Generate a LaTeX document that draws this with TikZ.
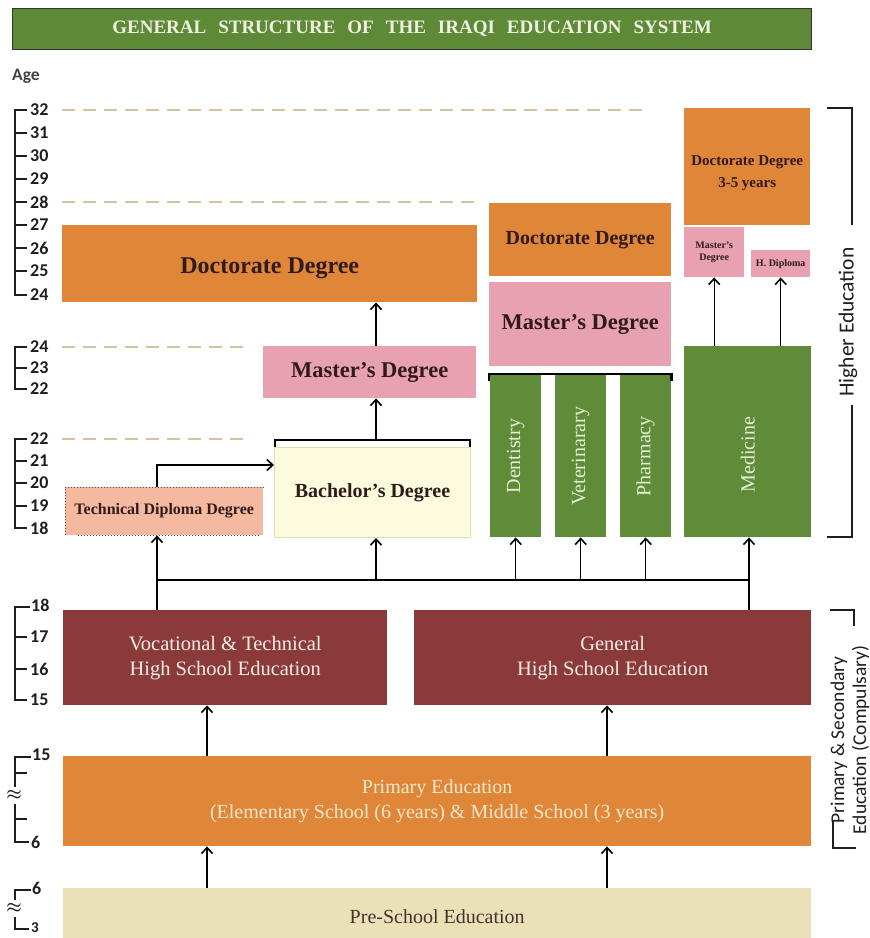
\documentclass[tikz,border=0pt]{standalone}
\usepackage{fontspec}
\setmainfont{Liberation Serif}
\newfontfamily\sidefont{Carlito}
\usetikzlibrary{arrows.meta,calc}
\newcommand\fsz[2]{\fontsize{#1}{#2}\selectfont}
\definecolor{titlegreen}{RGB}{94,138,56}
\definecolor{titletext}{RGB}{240,240,225}
\definecolor{orng}{RGB}{224,134,57}
\definecolor{pinkc}{RGB}{232,161,176}
\definecolor{grn}{RGB}{96,139,56}
\definecolor{grntext}{RGB}{228,240,214}
\definecolor{redc}{RGB}{139,58,58}
\definecolor{redtext}{RGB}{246,236,230}
\definecolor{primtext}{RGB}{250,232,205}
\definecolor{prec}{RGB}{234,226,182}
\definecolor{bachc}{RGB}{253,251,222}
\definecolor{bachb}{RGB}{226,221,172}
\definecolor{techc}{RGB}{245,185,160}
\definecolor{darktext}{RGB}{48,26,26}
\definecolor{dashc}{RGB}{214,194,160}
\definecolor{scalec}{RGB}{30,30,30}
\begin{document}
\begin{tikzpicture}[x=1pt,y=-1pt,
  box/.style={draw=none, inner sep=0pt, anchor=north west, text=darktext},
  rect/.style 2 args={minimum width=#1pt, minimum height=#2pt},
  arr/.style={-{Straight Barb[length=6pt,width=11pt,line width=1.6pt]}, line width=1.3pt, black},
  plain/.style={line width=1.3pt, black},
  coltext/.style={rotate=90, text=grntext, font=\fsz{20}{23}, inner sep=0pt},
  agenum/.style={anchor=west, inner sep=0pt, font=\sidefont\bfseries\fsz{18}{20}, text=scalec},
  scaleline/.style={line width=1.8pt, scalec},
  agedash/.style={dashc, line width=1.3pt, dash pattern=on 13pt off 8pt},
  sidebr/.style={line width=1.3pt, scalec}]
\useasboundingbox (0,0) rectangle (870,938);
\fill[white] (0,0) rectangle (870,938);
\clip (0,0) rectangle (870,938);

% title
\node[box, fill=titlegreen, draw=black!80, line width=1.2pt, rect={799}{41}, text=titletext, font=\bfseries\fsz{19}{22}] (title) at (12,8)
  {GENERAL\hspace{12pt}STRUCTURE\hspace{12pt}OF\hspace{12pt}THE\hspace{12pt}IRAQI\hspace{12pt}EDUCATION\hspace{12pt}SYSTEM};
\node[anchor=west, inner sep=0pt, font=\sidefont\bfseries\fsz{17.5}{20}, text=scalec!85] (age) at (12,76) {Age};

% dashed age guides
\draw[agedash] (62,110) -- (650,110);
\draw[agedash] (62,202) -- (480,202);
\draw[agedash] (62,347) -- (245,347);
\draw[agedash] (62,439) -- (245,439);

% age scales
\draw[scaleline] (27,110) -- (15,110) -- (15,295) -- (27,295);
\foreach \a/\y in {32/110,31/133,30/156,29/179,28/202,27/225,26/248,25/271,24/295}{
  \draw[scaleline] (15,\y) -- (27,\y);
  \node[agenum] (sa\a) at (30,\y) {\a};}
\draw[scaleline] (27,347) -- (15,347) -- (15,389) -- (27,389);
\foreach \a/\y in {24/347,23/368,22/389}{
  \draw[scaleline] (15,\y) -- (27,\y);
  \node[agenum] (sb\a) at (30,\y) {\a};}
\draw[scaleline] (27,439) -- (15,439) -- (15,528) -- (27,528);
\foreach \a/\y in {22/439,21/461,20/483,19/506,18/528}{
  \draw[scaleline] (15,\y) -- (27,\y);
  \node[agenum] (sc\a) at (30,\y) {\a};}
\draw[scaleline] (30,607) -- (15,607) -- (15,700) -- (27,700);
\foreach \a/\y in {17/637,16/669}{
  \draw[scaleline] (15,\y) -- (27,\y);
  \node[agenum] (sd\a) at (30,\y) {\a};}
\node[agenum] (sd18) at (31,605) {18};
\node[agenum] (sd15) at (30,700) {15};
\draw[scaleline] (31,757) -- (15,757) -- (15,787);
\draw[scaleline] (15,804) -- (15,842) -- (29,842);
\draw[scaleline] (15,773) -- (27,773);
\draw[scaleline] (15,819) -- (27,819);
\node[agenum] (se15) at (32,755) {15};
\node[agenum] (se6) at (31,842) {6};
\node[inner sep=0pt, font=\boldmath\fsz{17}{17}, text=scalec] (sea) at (14,795) {$\approx$};
\draw[scaleline] (31,890) -- (15,890) -- (15,900);
\draw[scaleline] (15,917) -- (15,929) -- (29,929);
\node[agenum] (sf6) at (32,888) {6};
\node[agenum, font=\sidefont\bfseries\fsz{15}{17}] (sf3) at (31,928) {3};
\node[inner sep=0pt, font=\boldmath\fsz{17}{17}, text=scalec] (sfa) at (14,908) {$\approx$};

% boxes
\node[box, fill=orng, rect={415}{77}] (docL) at (62,225) {};
\node[font=\bfseries\fsz{24}{28}, text=darktext, inner sep=0pt] (docLT) at ($(docL.center)+(0,5)$) {Doctorate Degree};
\node[box, fill=pinkc, rect={213}{52}, font=\bfseries\fsz{22.5}{26}] (masL) at (263,346) {Master's Degree};
\node[box, fill=techc, rect={198}{48}, font=\bfseries\fsz{16}{19}] (tech) at (65,487) {Technical Diploma Degree};
\node[box, fill=bachc, draw=bachb, line width=1pt, rect={196}{90}, font=\bfseries\fsz{20}{23}] (bach) at (274,447) {\raisebox{2pt}{Bachelor’s Degree}};
\node[box, fill=orng, rect={182}{73}, font=\bfseries\fsz{20}{23}] (docM) at (489,203) {\raisebox{3pt}{Doctorate Degree}};
\node[box, fill=pinkc, rect={182}{84}, font=\bfseries\fsz{22.5}{26}] (masM) at (489,282) {Master's Degree};
\node[box, fill=grn, rect={51}{162}] (dent) at (490,375) {};
\node[box, fill=grn, rect={51}{162}] (vet) at (555,375) {};
\node[box, fill=grn, rect={51}{162}] (phar) at (620,375) {};
\node[box, fill=grn, rect={127}{191}] (med) at (684,346) {};
\node[coltext] (dentT) at (dent.center) {Dentistry};
\node[coltext] (vetT) at (vet.center) {Veterinarary};
\node[coltext] (pharT) at (phar.center) {Pharmacy};
\node[coltext] (medT) at ($(med.center)+(0,13)$) {Medicine};
\node[box, fill=orng, rect={126}{117}] (docR) at (684,108) {};
\node[font=\bfseries\fsz{15}{22}, align=center, text=darktext, inner sep=0pt] (docRT) at ($(docR.center)+(0,7)$) {Doctorate Degree\\3-5 years};
\node[box, fill=pinkc, rect={60}{50}, font=\bfseries\fsz{10}{12}, align=center] (masR) at (684,227) {Master’s\\Degree};
\node[box, fill=pinkc, rect={59}{27}, font=\bfseries\fsz{10}{12}] (hdip) at (751,250) {H. Diploma};
\node[box, fill=redc, rect={324}{95}, text=redtext, font=\fsz{20.5}{25}, align=center] (voc) at (63,610) {Vocational \& Technical\\High School Education};
\node[box, fill=redc, rect={397}{95}, text=redtext, font=\fsz{20.5}{25}, align=center] (gen) at (414,610) {General\\High School Education};
\node[box, fill=orng, rect={748}{90}, text=primtext, font=\fsz{20}{25}, align=center] (prim) at (63,756) {Primary Education\\(Elementary School (6 years) \& Middle School (3 years)};
\node[box, fill=prec, rect={748}{60}, text=darktext!90, font=\fsz{20}{23}] (pre) at (63,888) {\raisebox{3pt}{Pre-School Education}};

% technical diploma dotted borders
\draw[darktext!80, line width=1pt, dotted] (tech.south west) -- (tech.north west) -- (tech.north east);
\draw[darktext!80, line width=1pt, dotted] ($(tech.south west)+(13,0)$) -- ($(tech.south east)+(-5,0)$);

% brackets
\draw[plain] ($(bach.north west)+(1,0)$) -- ++(0,-7) -| ($(bach.north east)+(-1,0)$);
\draw[line width=2.6pt, black] ($(dent.north west)+(-1,6)$) -- ++(0,-7) -| ($(phar.north east)+(0,6)$);

% connectors
\coordinate (jL) at (157,580);
\coordinate (jR) at (749,580);
\coordinate (jB) at (376,440);
\coordinate (c207) at (207,800);
\coordinate (c607) at (607,800);
\draw[plain] (jL) -- (jR);
\draw[arr] (jL |- voc.north) -- (jL |- tech.south);
\draw[arr] (jR |- gen.north) -- (jR |- med.south);
\draw[arr] (jB |- jL) -- (jB |- bach.south);
\draw[arr] (dent.south |- jL) -- (dent.south);
\draw[arr] (vet.south |- jL) -- (vet.south);
\draw[arr] (phar.south |- jL) -- (phar.south);
\draw[arr] (jL |- tech.north) |- ($(bach.north west)+(0,18)$);
\draw[arr] (jB) -- (jB |- masL.south);
\draw[arr] (jB |- masL.north) -- (jB |- docL.south);
\draw[arr] (masR.south |- med.north) -- (masR.south);
\draw[arr] (hdip.south |- med.north) -- (hdip.south);
\draw[arr] (c207 |- prim.north) -- (c207 |- voc.south);
\draw[arr] (c607 |- prim.north) -- (c607 |- gen.south);
\draw[arr] (c207 |- pre.north) -- (c207 |- prim.south);
\draw[arr] (c607 |- pre.north) -- (c607 |- prim.south);

% side brackets
\draw[sidebr] (827,108) -- (852,108) -- (852,225);
\draw[sidebr] (852,405) -- (852,537) -- (827,537);
\node[rotate=90, inner sep=0pt, font=\sidefont\fsz{21.5}{24}, text=scalec] (hiedu) at (848,322) {Higher Education};
\draw[sidebr] (830,610) -- (854,610) -- (854,626);
\draw[sidebr] (833,820) -- (833,848) -- (856,848);
\node[rotate=90, inner sep=0pt, font=\sidefont\fsz{19.5}{22}, align=center, text=scalec] (pse) at (850,740) {Primary \& Secondary\\Education (Compulsary)};
\end{tikzpicture}
\end{document}
